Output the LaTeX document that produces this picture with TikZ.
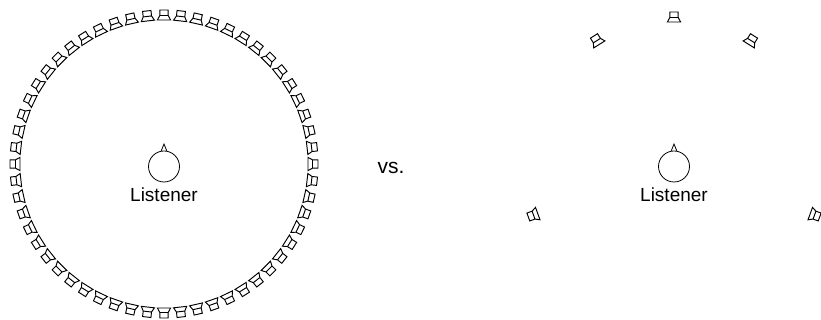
\documentclass[tikz,border=0pt]{standalone}
\usepackage{fontspec}
\setmainfont{Liberation Sans}
\usetikzlibrary{positioning}

\begin{document}
\begin{tikzpicture}[
    x=1pt, y=1pt,
    % Estilo para la cabeza del oyente
    cabeza/.style={
        circle,
        draw=black,
        fill=white,
        line width=0.8pt,
        inner sep=0pt,
        minimum size=31pt
    },
    % Estilo para los textos
    rotulo/.style={
        inner sep=0pt,
        font=\fontsize{19}{19}\selectfont
    },
    % Estilo para la nariz
    nariz/.style={
        line width=0.8pt
    },
    % Altavoz: cuadrado hacia fuera, boca hacia el oyente
    altavoz/.pic={
        \draw[line width=0.95pt]
            (-4.2,-0.5) rectangle (4.2,5)
            (-4.2,-0.5) -- (-6.6,-5) -- (6.6,-5) -- (4.2,-0.5);
    }
]
    \useasboundingbox (0,0) rectangle (821,320);

    % --- CIRCULO DE ALTAVOCES ---
    \begin{scope}[shift={(164,156)}]
        \foreach \i in {0,...,55} {
            \pgfmathsetmacro{\ang}{\i/56*360}
            \pic[rotate=\ang-90] at (\ang:149) {altavoz};
        }
    \end{scope}

    % --- ALTAVOCES DE LA DERECHA ---
    \begin{scope}[shift={(674,156)}]
        \foreach \ang/\rad in {90/147,58/146,122/146,-20/150,200/150} {
            \pic[rotate=\ang-90] at (\ang:\rad) {altavoz};
        }
    \end{scope}

    % --- OYENTE IZQUIERDA ---
    \node[cabeza] (cabezaA) at (164,153.5) {};
    \coordinate (narizA) at (164,176);
    \draw[nariz] (cabezaA.100) -- (narizA) -- (cabezaA.80);
    \node[rotulo, below=5.5pt of cabezaA] (oyenteA) {Listener};

    % --- OYENTE DERECHA ---
    \node[cabeza] (cabezaB) at (674,153.5) {};
    \coordinate (narizB) at (674,176);
    \draw[nariz] (cabezaB.100) -- (narizB) -- (cabezaB.80);
    \node[rotulo, below=5.5pt of cabezaB] (oyenteB) {Listener};

    % --- TEXTO CENTRAL ---
    \node[rotulo, font=\fontsize{21}{21}\selectfont] (versus) at (391,152) {vs.};

\end{tikzpicture}
\end{document}
